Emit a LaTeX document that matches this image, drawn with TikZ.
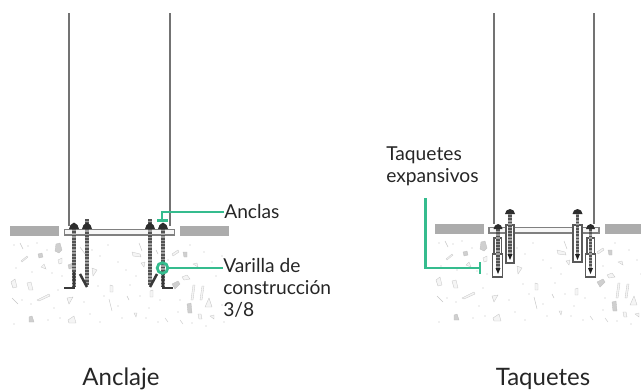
\documentclass[tikz,border=0pt]{standalone}
\usepackage{fontspec}
\setmainfont{Lato}
\definecolor{verde}{HTML}{35BC8E}
\definecolor{texto}{HTML}{262626}
\tikzset{
	x=.75pt, y=-.75pt,
	etiqueta/.style={inner sep=0pt, text=texto, font=\fontsize{14.4}{16.5}\selectfont, align=left, anchor=base west},
	titulo/.style={inner sep=0pt, text=texto, font=\fontsize{18}{20}\selectfont, anchor=base},
	guia/.style={draw=verde, line width=2.1pt},
	colgante/.style={draw=gray!90!black, line width=.9pt},
	placa/.style={fill=gray!6, draw=gray, line width=1.2pt},
	rosca/.style={draw=gray!65!black, line width=2.4pt, dash pattern=on 1.4pt off 1pt, preaction={draw=gray!75, line width=2.4pt, solid}},
	gancho/.style={draw=gray!45!black, line width=1.9pt},
	tuerca/.style={fill=gray!35!black, draw=none},
	camisa/.style={draw=gray!70!black, fill=white, line width=1.4pt},
	grava/.style={draw=gray!45, fill=gray!8, line width=.25pt},
	gravaosc/.style={draw=gray!50, fill=gray!38, line width=.25pt},
	raya/.style={draw=gray!45, line width=.35pt},
}
\begin{document}
\begin{tikzpicture}
	\useasboundingbox (0,0) rectangle (641,389);
	% concreto, igual en los dos dibujos
	\foreach \dx/\dy in {0/0,425/-2} {
	\begin{scope}[shift={(\dx*.75pt,-\dy*.75pt)}]
		\fill[gray!65] (10,226) rectangle (59,236);
		\fill[gray!65] (180,226) rectangle (229,236);
		% piedras
		\filldraw[gravaosc] (56,244) -- (60,243) -- (62,250) -- (59,253) -- (55,251) -- cycle;
		\filldraw[gravaosc] (38,254) -- (42,253) -- (43,257) -- (39,258) -- cycle;
		\filldraw[grava] (21,261) -- (27,256) -- (28,257) -- (22,262) -- cycle;
		\filldraw[grava] (41,267) -- (44,264) -- (46,269) -- cycle;
		\filldraw[grava] (58,260) -- (62,258) -- (62,263) -- (59,264) -- cycle;
		\filldraw[gravaosc] (68,265) -- (73,263) -- (72,268) -- (69,269) -- cycle;
		\filldraw[grava] (11,282) -- (15,279) -- (17,287) -- (13,288) -- cycle;
		\filldraw[grava] (27,283) -- (31,282) -- (33,290) -- (29,290) -- cycle;
		\filldraw[grava] (37,300) -- (49,294) -- (50,296) -- (39,301) -- cycle;
		\filldraw[grava] (67,298) -- (73,297) -- (69,304) -- cycle;
		\filldraw[grava] (92,268) -- (97,270) -- (93,276) -- cycle;
		\filldraw[grava] (110,285) -- (113,286) -- (113,292) -- (110,292) -- cycle;
		\filldraw[grava] (132,252) -- (140,254) -- (141,257) -- (133,256) -- cycle;
		\filldraw[grava] (141,263) -- (145,262) -- (144,267) -- cycle;
		\filldraw[grava] (172,254) -- (178,250) -- (179,252) -- (173,256) -- cycle;
		\filldraw[gravaosc] (183,252) -- (187,252) -- (187,257) -- (184,257) -- cycle;
		\filldraw[grava] (193,264) -- (197,263) -- (198,267) -- cycle;
		\filldraw[grava] (182,277) -- (187,275) -- (190,279) -- (184,280) -- cycle;
		\filldraw[gravaosc] (172,284) -- (178,281) -- (180,284) -- (175,289) -- cycle;
		\filldraw[grava] (191,300) -- (193,285) -- (195,285) -- (193,300) -- cycle;
		\filldraw[grava] (200,300) -- (202,286) -- (204,286) -- (202,300) -- cycle;
		\filldraw[grava] (205,307) -- (209,298) -- (212,307) -- cycle;
		\filldraw[gravaosc] (187,304) -- (191,303) -- (192,313) -- (188,313) -- cycle;
		\filldraw[grava] (198,314) -- (201,314) -- (202,319) -- (199,319) -- cycle;
		\filldraw[grava] (210,316) -- (214,315) -- (214,319) -- cycle;
		\filldraw[gravaosc] (29,317) -- (32,316) -- (34,322) -- (29,322) -- cycle;
		\filldraw[grava] (68,320) -- (74,316) -- (76,323) -- (69,323) -- cycle;
		\filldraw[grava] (150,291) -- (153,290) -- (153,297) -- (150,297) -- cycle;
		\filldraw[grava] (134,313) -- (137,313) -- (136,317) -- cycle;
		% rayas
		\draw[raya] (20,243) -- (23,249) (12,298) -- (18,304) (80,247) -- (88,258) (109,299) -- (112,311) (139,243) -- (142,251)
			(127,296) -- (129,300) (156,250) -- (158,254) (180,320) -- (183,324) (165,318) -- (168,322);
		% puntos
		\foreach \px/\py in {14/245,28/246,37/243,47/250,16/268,32/272,52/273,62/276,22/300,31/304,58/290,54/308,
			14/324,48/320,60/318,92/250,100/256,108/245,118/262,126/270,98/286,104/296,84/302,90/314,100/322,118/306,
			122/318,130/285,140/296,149/308,158/322,146/318,136/276,160/300,168/260,178/268,190/245,204/252,212/262,
			222/256,216/276,224/290,180/300,178/312,222/305,224/322,206/326,192/323} {
			\fill[gray!50] (\px,\py) circle[radius=.45pt];
		}
	\end{scope}
	}
	% ---- Anclaje ----
	\draw[colgante] (69,13) -- (69,226);
	\draw[colgante] (170,13) -- (170,226);
	\filldraw[placa] (64.5,229.5) rectangle (174.5,235);
	% varillas
	\draw[rosca] (74,225) -- (74,287);
	\draw[rosca] (87,219) -- (87,285);
	\draw[rosca] (150,219) -- (150,285);
	\draw[rosca] (163,225) -- (163,287);
	% ganchos
	\draw[gancho] (64,288) -- (74,288) -- (74,272);
	\draw[gancho] (80,274) -- (87,287);
	\draw[gancho] (157,274) -- (150,287);
	\draw[gancho] (163,272) -- (163,288) -- (173,288);
	% tuercas
	\fill[tuerca] (69,229) -- (70.5,225) -- (74,222.5) -- (77.5,225) -- (79,229) -- cycle;
	\fill[tuerca] (82,229) -- (83.5,225) -- (87,222.5) -- (90.5,225) -- (92,229) -- cycle;
	\fill[tuerca] (145,229) -- (146.5,225) -- (150,222.5) -- (153.5,225) -- (155,229) -- cycle;
	\fill[tuerca] (158,229) -- (159.5,225) -- (163,222.5) -- (166.5,225) -- (168,229) -- cycle;
	% ---- Taquetes ----
	\draw[colgante] (494,13) -- (494,224);
	\draw[colgante] (594,13) -- (594,224);
	\filldraw[placa] (489,227.5) rectangle (599,233);
	% camisas
	\filldraw[camisa] (494,238) rectangle (501.5,255);
	\filldraw[camisa] (492.5,254) rectangle (502.5,277);
	\filldraw[camisa] (506,225) rectangle (514,263);
	\filldraw[camisa] (573,225) rectangle (582,262);
	\filldraw[camisa] (587,238) rectangle (594.5,255);
	\filldraw[camisa] (585.5,254) rectangle (595.5,277);
	% tornillos
	\draw[rosca] (498,226) -- (498,268);
	\draw[rosca] (510,212) -- (510,254);
	\draw[rosca] (577.5,212) -- (577.5,254);
	\draw[rosca] (590.5,226) -- (590.5,268);
	\fill[gray!25!black] (495.5,268) -- (500.5,268) -- (498,274) -- cycle;
	\fill[gray!25!black] (507.5,254) -- (512.5,254) -- (510,260) -- cycle;
	\fill[gray!25!black] (575,254) -- (580,254) -- (577.5,260) -- cycle;
	\fill[gray!25!black] (588,268) -- (593,268) -- (590.5,274) -- cycle;
	% cabezas
	\fill[tuerca] (493.5,229) -- (495,225.5) -- (498,224) -- (501,225.5) -- (502.5,229) -- cycle;
	\fill[tuerca] (505,214) -- (506.5,210.5) -- (510,209) -- (513.5,210.5) -- (515,214) -- cycle;
	\fill[tuerca] (572.5,214) -- (574,210.5) -- (577.5,209) -- (581,210.5) -- (582.5,214) -- cycle;
	\fill[tuerca] (586,229) -- (587.5,225.5) -- (590.5,224) -- (593.5,225.5) -- (595,229) -- cycle;
	% etiquetas
	\node[etiqueta] (anclas) at (224,218) {Anclas};
	\node[etiqueta] (varilla) at (223,272) {Varilla de};
	\node[etiqueta] (construccion) at (223,294) {construcción};
	\node[etiqueta] (tresOctavos) at (223,316.5) {3/8};
	\node[etiqueta] (taquetes) at (386,160) {Taquetes};
	\node[etiqueta] (expansivos) at (386,182) {expansivos};
	\node[titulo] (anclaje) at (121,385) {Anclaje};
	\node[titulo] (taquetesTitulo) at (543,385) {Taquetes};
	% guias verdes
	\coordinate (anclasCodo) at (162,212);
	\coordinate (anclasPie) at (162,220.5);
	\coordinate (anclasIzq) at (157,220.5);
	\coordinate (anclasDer) at (168,220.5);
	\draw[guia] (anclas.west |- anclasCodo) -- (anclasCodo) -- (anclasPie);
	\draw[guia] (anclasIzq) -- (anclasDer);
	\node[circle, guia, minimum size=8pt, inner sep=0pt] (circuloVarilla) at (162.5,268) {};
	\draw[guia] (circuloVarilla.east) -- (circuloVarilla.east -| varilla.west);
	\coordinate (taquetesIni) at (425.7,198);
	\coordinate (taquetesCodo) at (425.7,268);
	\coordinate (taquetesFin) at (480,268);
	\coordinate (taquetesArr) at (480,262);
	\coordinate (taquetesAba) at (480,274);
	\draw[guia] (taquetesIni) -- (taquetesCodo) -- (taquetesFin);
	\draw[guia] (taquetesArr) -- (taquetesAba);
\end{tikzpicture}
\end{document}
